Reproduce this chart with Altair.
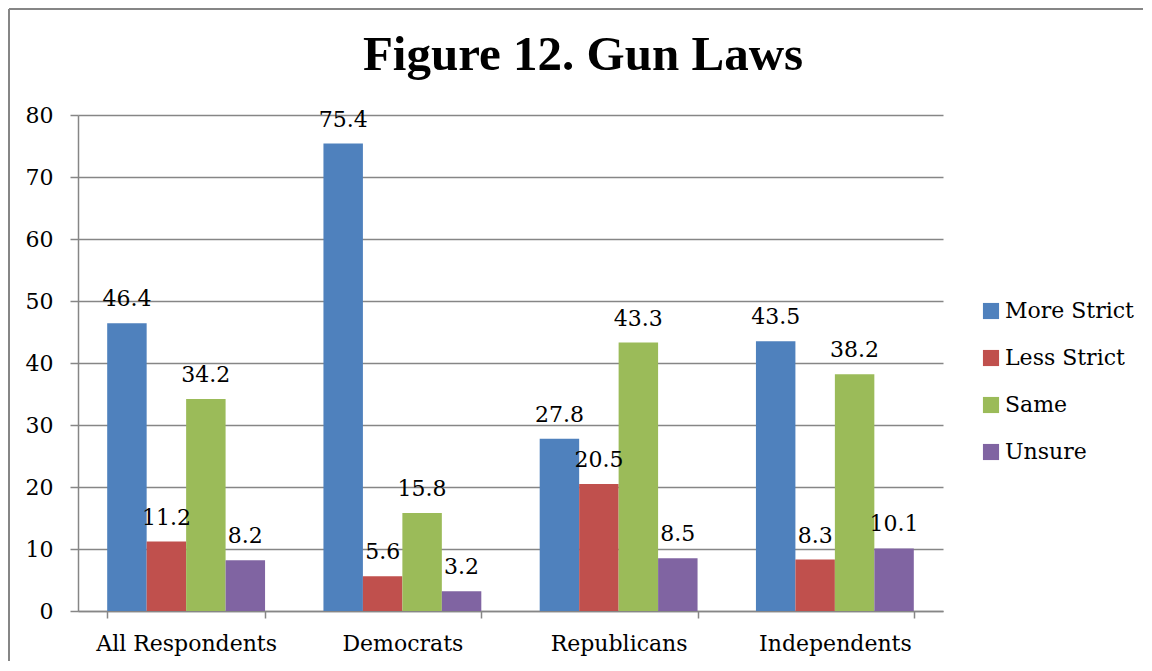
import altair as alt
import pandas as pd

categories = ["All Respondents", "Democrats", "Republicans", "Independents"]
series = ["More Strict", "Less Strict", "Same", "Unsure"]
more_strict = [46.4, 75.4, 27.8, 43.5]
less_strict = [11.2, 5.6, 20.5, 8.3]
same = [34.2, 15.8, 43.3, 38.2]
unsure = [8.2, 3.2, 8.5, 10.1]
colors = ["#4F81BD", "#C0504D", "#9BBB59", "#8064A2"]
title_text = "Figure 12. Gun Laws"

rows = []
for s, vals in zip(series, [more_strict, less_strict, same, unsure]):
    for c, v in zip(categories, vals):
        rows.append({"group": c, "series": s, "value": v, "label": f"{v:.1f}"})
df = pd.DataFrame(rows)

FONT = "DejaVu Serif"
GRAY = "#868686"

x = alt.X("group:N", sort=categories, title=None,
          scale=alt.Scale(paddingInner=0.27, paddingOuter=0.135),
          axis=alt.Axis(labelAngle=0, labelFont=FONT, labelFontSize=22, labelColor="black",
                        labelLimit=400,
                        tickBand="extent", tickSize=7, tickColor=GRAY, tickWidth=1.5,
                        domainColor=GRAY, domainWidth=1.5, labelPadding=15, grid=False))
y = alt.Y("value:Q", title=None,
          scale=alt.Scale(domain=[0, 80], nice=False),
          axis=alt.Axis(values=list(range(0, 81, 10)), labelFont=FONT, labelFontSize=22,
                        labelColor="black", tickSize=8, tickColor=GRAY, tickWidth=1.5,
                        domainColor=GRAY, domainWidth=1.5, gridColor=GRAY, gridWidth=1.5,
                        labelPadding=17))
xo = alt.XOffset("series:N", sort=series, scale=alt.Scale(paddingInner=0, paddingOuter=0))

base = alt.Chart(df)
bars = base.mark_bar().encode(
    x=x, y=y, xOffset=xo,
    color=alt.Color("series:N", sort=series,
                    scale=alt.Scale(domain=series, range=colors),
                    legend=alt.Legend(title=None, orient="none", legendX=902, legendY=185,
                                      labelFont=FONT, labelFontSize=22, labelColor="black",
                                      symbolType="square", symbolSize=260, symbolStrokeWidth=0,
                                      labelOffset=3, rowPadding=25, padding=0)),
)
labels = base.mark_text(font=FONT, fontSize=22, color="black", baseline="alphabetic", dy=-17).encode(
    x=x, y=y, xOffset=xo, text="label:N"
)

one_df = pd.DataFrame({"k": [0]})
left_border = alt.Chart(one_df).mark_rule(color=GRAY, strokeWidth=2).encode(
    x=alt.value(-69), y=alt.value(-106), y2=alt.value(560)
)
top_border = alt.Chart(one_df).mark_rule(color=GRAY, strokeWidth=2).encode(
    x=alt.value(-69), x2=alt.value(1070), y=alt.value(-106)
)
title = alt.Chart(one_df).mark_text(font="Liberation Serif", fontSize=49, fontWeight="bold",
                                     color="black", align="center", baseline="alphabetic").encode(
    x=alt.value(505), y=alt.value(-45), text=alt.value(title_text)
)

chart = alt.layer(bars, labels, left_border, top_border, title).properties(
    width=865, height=496,
    autosize=alt.AutoSizeParams(type="none"),
    padding={"left": 70, "top": 107, "right": 200, "bottom": 50},
).configure_view(stroke=None)

chart.save("out.html", embed_options={"renderer": "svg", "actions": False})
